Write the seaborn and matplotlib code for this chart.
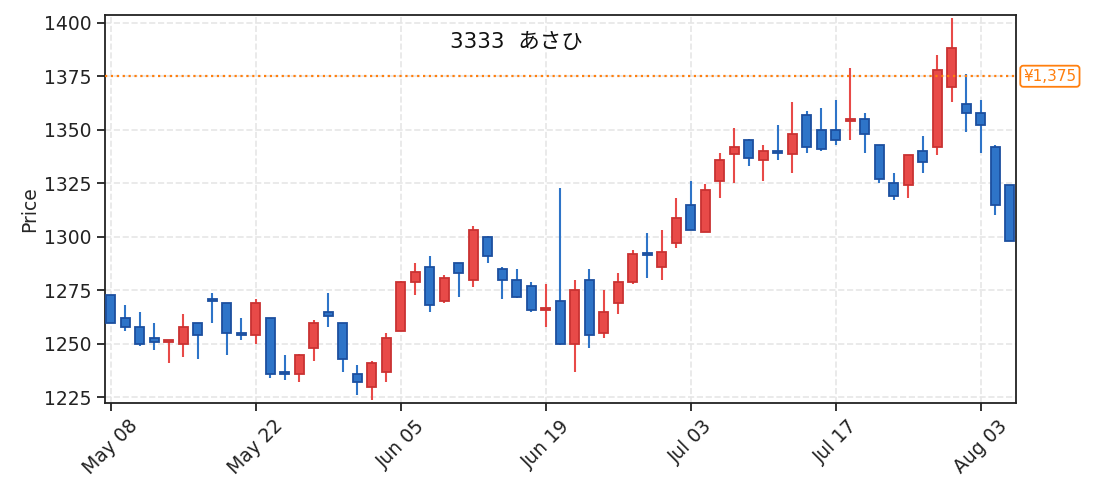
import matplotlib
matplotlib.use("Agg")
import matplotlib.pyplot as plt
import numpy as np
import seaborn as sns

# 3333 あさひ  daily OHLC
opens = [1273, 1262, 1258, 1253, 1251, 1250, 1260, 1270.5, 1269, 1255,
         1254, 1262, 1237, 1236, 1248, 1265, 1260, 1236, 1230, 1237,
         1256, 1279, 1286, 1270, 1288, 1280, 1300, 1285, 1280, 1277,
         1266, 1270, 1250, 1280, 1255, 1269, 1279, 1292.5, 1286, 1297,
         1315, 1302.5, 1326, 1338.5, 1345, 1336, 1340, 1338.5, 1357, 1350,
         1350, 1354, 1355, 1343, 1325, 1324, 1340, 1342, 1370, 1362,
         1358, 1342, 1324]
closes = [1260, 1258, 1250, 1251, 1252, 1258, 1254, 1270, 1255, 1254,
          1269, 1236, 1236, 1245, 1260, 1263, 1243, 1232, 1241, 1253,
          1279, 1283.5, 1268, 1281, 1283, 1303, 1291, 1280, 1272, 1266,
          1267, 1250, 1275, 1254, 1265, 1279, 1292, 1291.5, 1293, 1309,
          1303, 1322, 1336, 1342, 1337, 1340, 1339, 1348, 1342, 1341,
          1345, 1355, 1348, 1327, 1319, 1338, 1335, 1378, 1388, 1358,
          1352, 1315, 1298]
highs = [1273, 1268, 1265, 1260, 1252, 1264, 1260, 1274, 1269, 1262,
         1271, 1262, 1245, 1245.5, 1261, 1274, 1260, 1240, 1242, 1255,
         1279.5, 1288, 1291, 1282, 1288, 1305, 1300.5, 1286, 1285, 1279,
         1278, 1323, 1280, 1285, 1275, 1283, 1294, 1302, 1303, 1318,
         1326, 1324.5, 1339, 1351, 1345.6, 1343, 1352, 1363, 1359, 1360,
         1364, 1379, 1358, 1343, 1330, 1338, 1347, 1385, 1402, 1376,
         1364, 1343, 1324]
lows = [1260, 1256, 1249, 1247, 1241, 1244, 1243, 1260, 1245, 1252,
        1250, 1234, 1233, 1232, 1242, 1258, 1237, 1226, 1224, 1232,
        1256, 1273, 1265, 1269, 1272, 1276.5, 1288, 1271, 1271.5, 1265,
        1258, 1249.5, 1237, 1248, 1253, 1264, 1278, 1281, 1280, 1295,
        1303, 1302.5, 1318, 1325, 1333, 1326, 1336, 1330, 1339, 1340,
        1343, 1345, 1339, 1325, 1317, 1318, 1330, 1338, 1363, 1349,
        1339, 1310, 1298]
tick_idx = [0, 10, 20, 30, 40, 50, 60]
tick_labels = ["May 08", "May 22", "Jun 05", "Jun 19", "Jul 03", "Jul 17", "Aug 03"]
ref_price = 1375
title = "3333  あさひ"

sns.set_theme(style="ticks")
plt.rcParams["font.family"] = ["DejaVu Sans", "Noto Sans CJK JP"]

o = np.array(opens, dtype=float)
c = np.array(closes, dtype=float)
h = np.array(highs, dtype=float)
l = np.array(lows, dtype=float)
x = np.arange(len(o))
up = c >= o

red_face, red_edge = "#e84a48", "#c93232"
blue_face, blue_edge = "#2e74c8", "#1c4f9f"

fig = plt.figure(figsize=(10.95, 4.93), dpi=100)
ax = fig.add_axes([0.0959, 0.182, 0.832, 0.7876])

ax.grid(True, color="#e6e6e6", linestyle="--", linewidth=1.2)
ax.set_axisbelow(True)

# wicks
wick_cols = np.where(up, "#e84a48", "#2e74c8")
ax.vlines(x, l, h, colors=wick_cols, linewidth=1.5, zorder=2)

# bodies
body_lo = np.minimum(o, c)
body_h = np.maximum(np.abs(c - o), 0.8)
ax.bar(x[up], body_h[up], bottom=body_lo[up], width=0.62,
       color=red_face, edgecolor=red_edge, linewidth=1.3, zorder=3)
ax.bar(x[~up], body_h[~up], bottom=body_lo[~up], width=0.62,
       color=blue_face, edgecolor=blue_edge, linewidth=1.3, zorder=3)

ax.axhline(ref_price, color="#ff7f0e", linestyle=":", linewidth=1.6, zorder=4)
ax.text(1.008, ref_price, f"¥{ref_price:,}", transform=ax.get_yaxis_transform(),
        ha="left", va="center", color="#ff7f0e", fontsize=11,
        bbox=dict(boxstyle="round,pad=0.2", fc="white", ec="#ff7f0e", lw=1.3),
        clip_on=False)

ax.text(0.451, 0.93, title, transform=ax.transAxes, ha="center", va="center",
        fontsize=15.5, color="#111111")

ax.set_xlim(-0.4, 62.45)
ax.set_ylim(1222.3, 1403.6)
ax.set_yticks([1225, 1250, 1275, 1300, 1325, 1350, 1375, 1400])
ax.set_xticks(tick_idx)
ax.set_xticklabels(tick_labels, rotation=45, ha="center")
ax.tick_params(axis="both", labelsize=13.5, length=6, width=1.3, colors="#222222")
ax.set_ylabel("Price", fontsize=13.5)
for s in ax.spines.values():
    s.set_linewidth(1.3)
    s.set_color("#222222")

fig.savefig("out.png", dpi=100)
